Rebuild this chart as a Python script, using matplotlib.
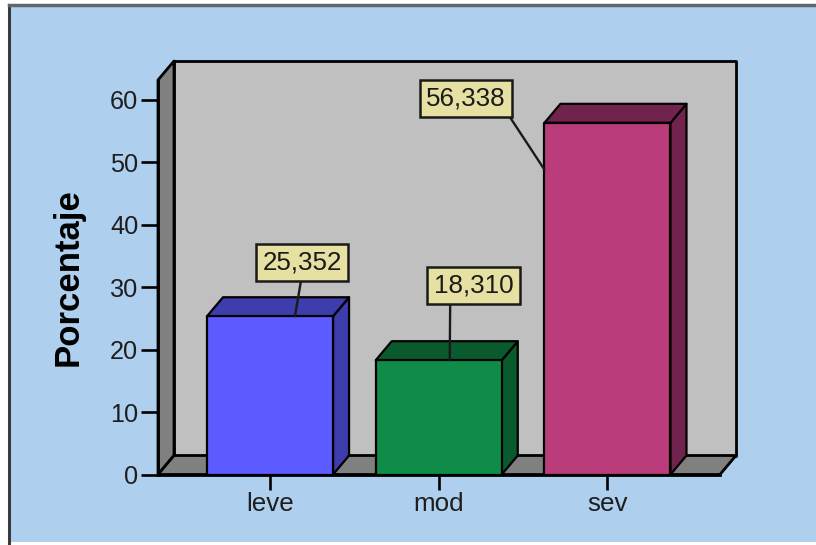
import matplotlib
matplotlib.use("Agg")
import matplotlib.pyplot as plt
from matplotlib.patches import Polygon, Rectangle
from matplotlib.lines import Line2D

plt.rcParams['font.family'] = ['Liberation Sans', 'DejaVu Sans']

# ---- data ----
categories = ['leve', 'mod', 'sev']
values = [25.352, 18.310, 56.338]
front_colors = ['#5B5BFF', '#0F8C47', '#BB3C7A']
shade_colors = ['#3D3DAE', '#095A2D', '#72234D']
y_ticks = [0, 10, 20, 30, 40, 50, 60]
y_label = 'Porcentaje'

# ---- figure ----
W, H = 816, 545
fig = plt.figure(figsize=(W / 100, H / 100), dpi=100, facecolor='white')

# light blue panel with its border
fig.add_artist(Rectangle((9 / W, 3 / H), 1 - 9 / W, (H - 9) / H,
                         transform=fig.transFigure, facecolor='#AED0EE',
                         edgecolor='none', zorder=0))
fig.add_artist(Line2D([9 / W, 9 / W], [0, (H - 5) / H], transform=fig.transFigure,
                      color='#3A3A3A', lw=2.2, zorder=1))
fig.add_artist(Line2D([9 / W, 1], [(H - 5) / H, (H - 5) / H], transform=fig.transFigure,
                      color='#5E6670', lw=2.5, zorder=1))

ax_left, ax_right = 158, 720
ax_bottom, ax_top = 474.5, 80
ax = fig.add_axes([ax_left / W, (H - ax_bottom) / H,
                   (ax_right - ax_left) / W, (ax_bottom - ax_top) / H])
ax.set_facecolor('none')

x0, x1 = -0.664, 2.667
y0, y1 = 0, 63.2
ax.set_xlim(x0, x1)
ax.set_ylim(y0, y1)

# depth of the 3D effect, in pixels, converted to data units
DEPTH_X, DEPTH_Y = 16, 19
px_per_x = (ax_right - ax_left) / (x1 - x0)
px_per_y = (ax_bottom - ax_top) / (y1 - y0)
dx = DEPTH_X / px_per_x
dy = DEPTH_Y / px_per_y

wall_kw = dict(edgecolor='black', linewidth=2.0, clip_on=False, joinstyle='round')
# back wall
ax.add_patch(Polygon([(x0 + dx, dy), (x0 + dx, y1 + dy), (x1 + dx, y1 + dy), (x1 + dx, dy)],
                     facecolor='#C0C0C0', zorder=1, **wall_kw))
# left side wall
ax.add_patch(Polygon([(x0, 0), (x0, y1), (x0 + dx, y1 + dy), (x0 + dx, dy)],
                     facecolor='#808080', zorder=1.1, **wall_kw))
# floor
ax.add_patch(Polygon([(x0, 0), (x1, 0), (x1 + dx, dy), (x0 + dx, dy)],
                     facecolor='#808080', zorder=1.2, **wall_kw))

# ---- bars ----
bar_w = 0.747
bar_kw = dict(edgecolor='black', linewidth=1.6, clip_on=False, joinstyle='round')
for i, (v, fc, sc) in enumerate(zip(values, front_colors, shade_colors)):
    l, r = i - bar_w / 2, i + bar_w / 2
    ax.add_patch(Polygon([(r, 0), (r + dx, dy), (r + dx, v + dy), (r, v)],
                         facecolor=sc, zorder=3, **bar_kw))
    ax.add_patch(Polygon([(l, v), (r, v), (r + dx, v + dy), (l + dx, v + dy)],
                         facecolor=sc, zorder=3, **bar_kw))
    ax.add_patch(Rectangle((l, 0), bar_w, v, facecolor=fc, zorder=3.1, **bar_kw))

# ---- value labels ----
label_pos = [(0.19, 34.0), (1.205, 30.3), (1.161, 60.2)]
anchor = [(0.148, values[0]), (1.065, values[1]), (2 - bar_w / 2, values[2] - 7.5)]
rel = [(0.5, 0.0), (0.21, 0.0), (1.0, 0.0)]
for v, tp, ap, rp in zip(values, label_pos, anchor, rel):
    txt = f'{v:.3f}'.replace('.', ',')
    ax.annotate(txt, xy=ap, xytext=tp, textcoords='data', ha='center', va='center',
                fontsize=18.7, color='#1A1A1A', zorder=5, annotation_clip=False,
                bbox=dict(boxstyle='square,pad=0.25', facecolor='#E6E0A2',
                          edgecolor='#1A1A1A', linewidth=1.8),
                arrowprops=dict(arrowstyle='-', color='#1A1A1A', lw=1.7,
                                shrinkA=0, shrinkB=0, relpos=rp))

# ---- axes styling ----
for s in ['top', 'right']:
    ax.spines[s].set_visible(False)
for s in ['left', 'bottom']:
    ax.spines[s].set_linewidth(2.0)
    ax.spines[s].set_color('black')
    ax.spines[s].set_zorder(4)

ax.set_yticks(y_ticks)
ax.set_yticklabels([str(t) for t in y_ticks])
ax.set_xticks(range(len(categories)))
ax.set_xticklabels(categories)
ax.tick_params(axis='y', direction='out', length=12.2, width=1.9, pad=2,
               labelsize=18.2, colors='black', labelcolor='#1E1E1E')
ax.tick_params(axis='x', direction='out', length=10.8, width=1.9, pad=2,
               labelsize=18.7, colors='black', labelcolor='#1E1E1E')

fig.text(68 / W, (H - 277) / H, y_label, rotation=90, ha='center', va='center',
         fontsize=25, fontweight='bold', color='black')

fig.savefig('out.png', dpi=100)
